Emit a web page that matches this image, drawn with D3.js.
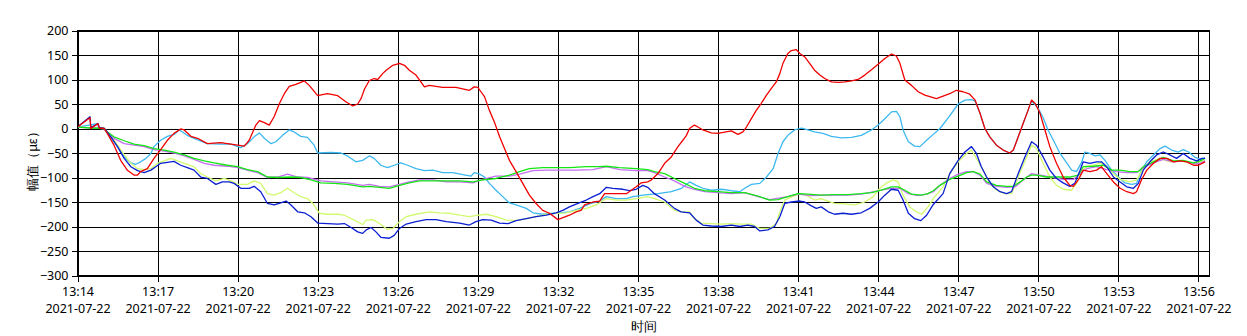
<!DOCTYPE html>
<html><head><meta charset="utf-8">
<script src="https://cdn.jsdelivr.net/npm/d3@7"></script>
<style>body{margin:0;background:#fff} svg text{font-family:"Noto Sans",sans-serif;fill:#000}</style>
</head><body><svg id="c" width="1247" height="336"></svg>
<script>
const dateLabel = "2021-07-22";
const xTickLabels = ["13:14","13:17","13:20","13:23","13:26","13:29","13:32","13:35","13:38","13:41","13:44","13:47","13:50","13:53","13:56"];
const yTicks = [200,150,100,50,0,-50,-100,-150,-200,-250,-300];
const xTitle = "时间";
const yTitle = "幅值（με）";
const seriesNames = ["cyan","yellowgreen","violet","green","blue","red"];

// times are "MM:SS" within hour 13
const cyan = [["14:00",3],["14:45",10],["14:48",1],["15:00",0],["15:15",-17],["15:30",-37],["15:45",-58],["16:00",-70],["16:11",-73],["16:22",-68],["16:34",-61],["16:45",-51],["16:52",-37],["17:07",-24],["17:22",-16],["17:37",-12],["17:49",-3],["17:56",-7],["18:07",-14],["18:22",-20],["18:52",-31],["19:22",-32],["19:45",-32],["20:07",-39],["20:22",-31],["20:37",-17],["20:49",-9],["21:00",-20],["21:15",-31],["21:26",-27],["21:41",-14],["21:56",-3],["22:07",-7],["22:22",-16],["22:37",-18],["22:52",-34],["23:00",-50],["23:30",-49],["23:52",-50],["24:07",-56],["24:26",-68],["24:41",-65],["24:56",-56],["25:07",-61],["25:22",-75],["25:37",-80],["25:52",-75],["26:07",-70],["26:22",-75],["26:41",-82],["27:00",-86],["27:19",-85],["27:41",-90],["28:04",-90],["28:26",-94],["28:45",-97],["28:52",-90],["29:04",-93],["29:15",-99],["29:26",-112],["29:41",-126],["29:56",-139],["30:11",-152],["30:26",-156],["30:49",-163],["31:04",-172],["31:26",-175],["31:49",-173],["32:04",-172],["32:26",-170],["32:49",-163],["33:11",-154],["33:34",-148],["33:49",-139],["34:11",-143],["34:34",-143],["34:49",-139],["35:11",-136],["35:45",-133],["36:15",-129],["36:38",-122],["36:56",-109],["37:11",-116],["37:26",-122],["37:45",-126],["38:08",-124],["38:30",-127],["38:49",-129],["39:00",-122],["39:15",-114],["39:34",-112],["39:49",-99],["40:04",-82],["40:15",-51],["40:26",-27],["40:37",-14],["40:52",-3],["41:08",1],["41:22",-3],["41:37",-7],["41:56",-10],["42:15",-16],["42:37",-19],["43:00",-18],["43:22",-14],["43:45",-3],["44:00",7],["44:15",20],["44:30",34],["44:41",35],["44:49",24],["44:56",-3],["45:08",-27],["45:22",-36],["45:34",-37],["45:49",-24],["46:04",-12],["46:19",0],["46:38",22],["47:00",50],["47:15",58],["47:30",59],["47:38",56],["47:49",31],["48:00",0],["48:11",-17],["48:26",-34],["48:41",-44],["48:56",-50],["49:04",-44],["49:15",-17],["49:26",10],["49:37",37],["49:45",56],["50:00",41],["50:11",22],["50:22",-3],["50:34",-24],["50:49",-51],["51:04",-70],["51:15",-85],["51:26",-88],["51:38",-68],["51:45",-48],["51:56",-51],["52:08",-56],["52:19",-54],["52:30",-65],["52:45",-85],["53:00",-99],["53:15",-111],["53:30",-114],["53:41",-112],["53:52",-85],["54:04",-68],["54:19",-54],["54:34",-41],["54:45",-36],["55:00",-44],["55:15",-48],["55:26",-43],["55:38",-48],["55:53",-59],["56:04",-63],["56:15",-60]];

const yellowgreen = [["14:00",3],["15:00",0],["15:15",-14],["15:30",-34],["15:45",-54],["16:00",-71],["16:15",-82],["16:30",-84],["16:45",-82],["17:00",-71],["17:15",-66],["17:30",-61],["17:45",-66],["18:00",-71],["18:22",-78],["18:37",-92],["18:52",-99],["19:11",-107],["19:30",-102],["19:45",-107],["20:00",-114],["20:22",-114],["20:37",-107],["20:52",-112],["21:07",-133],["21:22",-136],["21:37",-131],["21:52",-122],["22:07",-131],["22:22",-139],["22:37",-143],["22:49",-153],["23:04",-173],["23:22",-175],["23:45",-175],["24:00",-177],["24:22",-187],["24:41",-196],["24:49",-187],["25:04",-186],["25:19",-194],["25:37",-206],["25:49",-204],["26:04",-190],["26:19",-180],["26:41",-175],["27:11",-170],["27:34",-172],["27:56",-173],["28:19",-177],["28:41",-180],["29:00",-177],["29:19",-175],["29:41",-180],["30:04",-187],["30:26",-188],["30:49",-184],["31:11",-180],["31:34",-175],["31:56",-173],["32:19",-172],["32:41",-167],["33:04",-163],["33:26",-156],["33:49",-143],["34:11",-146],["34:34",-146],["34:56",-143],["35:22",-139],["35:37",-143],["36:00",-150],["36:22",-167],["36:37",-170],["36:56",-170],["37:07",-184],["37:22",-193],["37:45",-194],["38:07",-195],["38:30",-194],["38:52",-195],["39:15",-195],["39:34",-204],["39:56",-204],["40:11",-194],["40:19",-170],["40:30",-146],["40:49",-138],["41:07",-133],["41:22",-138],["41:37",-146],["41:52",-143],["42:07",-148],["42:22",-153],["42:45",-154],["43:07",-156],["43:30",-150],["43:49",-139],["44:04",-122],["44:19",-111],["44:34",-105],["44:45",-109],["44:56",-136],["45:11",-160],["45:26",-170],["45:38",-175],["45:52",-160],["46:04",-143],["46:26",-119],["46:41",-92],["47:00",-68],["47:19",-51],["47:30",-44],["47:41",-61],["47:56",-85],["48:11",-112],["48:26",-126],["48:45",-133],["49:00",-133],["49:15",-99],["49:34",-58],["49:45",-34],["49:56",-41],["50:11",-71],["50:26",-99],["50:41",-116],["50:56",-124],["51:15",-126],["51:26",-112],["51:38",-88],["51:49",-77],["52:04",-75],["52:19",-70],["52:34",-78],["52:49",-92],["53:04",-104],["53:26",-109],["53:41",-105],["53:56",-82],["54:11",-68],["54:34",-61],["54:56",-68],["55:19",-66],["55:41",-70],["56:04",-68],["56:15",-65]];

const violet = [["14:00",3],["15:00",0],["15:07",-7],["15:22",-20],["15:45",-31],["16:07",-34],["16:30",-37],["16:52",-43],["17:15",-46],["17:37",-50],["18:00",-56],["18:22",-63],["18:45",-71],["19:07",-75],["19:37",-77],["20:00",-80],["20:22",-85],["20:45",-90],["21:07",-100],["21:30",-99],["21:52",-93],["22:15",-99],["22:37",-100],["23:07",-107],["23:37",-109],["24:07",-111],["24:41",-116],["24:56",-114],["25:19",-118],["25:41",-119],["26:04",-114],["26:26",-109],["26:49",-105],["27:19",-105],["27:49",-109],["28:19",-109],["28:49",-111],["29:11",-104],["29:41",-97],["30:11",-97],["30:34",-93],["31:04",-86],["31:34",-85],["32:04",-85],["32:41",-85],["33:19",-84],["33:49",-78],["34:19",-84],["34:56",-86],["35:22",-86],["35:37",-90],["36:00",-99],["36:22",-107],["36:45",-118],["37:07",-124],["37:30",-129],["38:00",-131],["38:30",-133],["39:00",-131],["39:30",-139],["39:56",-145],["40:37",-139],["41:00",-134],["41:30",-137],["42:07",-136],["42:52",-136],["43:22",-134],["43:52",-129],["44:15",-124],["44:34",-122],["44:49",-122],["45:08",-133],["45:30",-137],["45:49",-134],["46:04",-129],["46:19",-116],["46:41",-102],["47:00",-93],["47:19",-88],["47:34",-88],["47:49",-95],["48:04",-112],["48:26",-118],["48:49",-120],["49:08",-119],["49:26",-105],["49:45",-92],["50:04",-95],["50:26",-99],["50:56",-104],["51:19",-104],["51:34",-92],["51:49",-82],["52:11",-78],["52:34",-84],["52:56",-88],["53:19",-90],["53:41",-90],["53:56",-80],["54:19",-70],["54:41",-63],["55:04",-68],["55:26",-66],["55:49",-71],["56:04",-71],["56:15",-66]];

const green = [["14:00",3],["14:30",1],["15:00",0],["15:07",-7],["15:22",-17],["15:45",-25],["16:07",-32],["16:30",-35],["16:52",-41],["17:15",-44],["17:37",-48],["18:00",-54],["18:22",-61],["18:45",-66],["19:07",-70],["19:37",-75],["20:00",-78],["20:22",-84],["20:45",-88],["21:07",-99],["21:30",-100],["22:00",-99],["22:22",-100],["22:45",-105],["23:07",-111],["23:37",-112],["24:07",-114],["24:41",-119],["24:56",-118],["25:19",-120],["25:41",-122],["26:04",-116],["26:26",-111],["26:49",-107],["27:19",-107],["27:49",-107],["28:19",-107],["28:49",-109],["29:11",-105],["29:41",-102],["30:11",-95],["30:34",-88],["30:56",-82],["31:26",-80],["31:56",-80],["32:26",-80],["33:04",-78],["33:34",-78],["33:49",-77],["34:19",-80],["34:56",-82],["35:22",-84],["35:37",-88],["36:00",-92],["36:22",-102],["36:45",-112],["37:07",-122],["37:30",-127],["38:00",-129],["38:30",-131],["39:00",-131],["39:30",-138],["39:56",-146],["40:15",-145],["40:37",-139],["41:00",-133],["41:22",-134],["41:52",-136],["42:22",-135],["42:52",-135],["43:22",-133],["43:45",-131],["44:07",-126],["44:30",-119],["44:45",-119],["45:00",-126],["45:15",-134],["45:37",-136],["45:52",-133],["46:04",-127],["46:19",-116],["46:41",-104],["47:00",-97],["47:19",-90],["47:34",-88],["47:49",-93],["48:04",-109],["48:26",-116],["48:49",-118],["49:04",-118],["49:19",-109],["49:34",-99],["49:45",-95],["49:56",-95],["50:19",-99],["50:41",-99],["51:11",-99],["51:30",-95],["51:41",-78],["52:04",-77],["52:26",-75],["52:45",-85],["53:04",-85],["53:26",-88],["53:45",-88],["53:56",-78],["54:19",-68],["54:41",-59],["55:04",-66],["55:26",-65],["55:49",-70],["56:04",-66],["56:15",-61]];

const blue = [["14:00",3],["14:28",24],["14:30",2],["14:46",10],["14:49",2],["15:00",0],["15:15",-17],["15:30",-37],["15:45",-61],["16:00",-78],["16:15",-86],["16:30",-90],["16:45",-85],["16:56",-78],["17:07",-71],["17:22",-69],["17:37",-67],["17:52",-75],["18:07",-80],["18:22",-85],["18:37",-99],["18:52",-102],["19:11",-114],["19:26",-109],["19:41",-109],["19:52",-112],["20:07",-122],["20:26",-122],["20:37",-118],["20:52",-129],["21:07",-153],["21:22",-156],["21:37",-152],["21:49",-148],["22:00",-156],["22:15",-170],["22:30",-172],["22:45",-180],["23:00",-193],["23:22",-194],["23:45",-195],["24:00",-194],["24:15",-202],["24:30",-211],["24:41",-214],["24:49",-207],["25:00",-202],["25:11",-211],["25:22",-222],["25:41",-224],["25:52",-218],["26:04",-204],["26:19",-195],["26:41",-190],["27:04",-186],["27:26",-186],["27:49",-190],["28:19",-193],["28:41",-197],["28:56",-190],["29:11",-186],["29:30",-187],["29:49",-193],["30:08",-194],["30:26",-188],["30:49",-184],["31:11",-180],["31:34",-177],["31:56",-172],["32:11",-167],["32:26",-160],["32:45",-153],["33:04",-146],["33:19",-139],["33:34",-133],["33:49",-120],["34:04",-122],["34:26",-124],["34:41",-127],["34:56",-124],["35:11",-116],["35:22",-120],["35:37",-133],["36:00",-146],["36:22",-163],["36:37",-170],["36:56",-172],["37:11",-187],["37:26",-197],["37:45",-199],["38:07",-200],["38:30",-197],["38:49",-200],["39:07",-197],["39:22",-200],["39:34",-209],["39:52",-207],["40:07",-200],["40:19",-180],["40:30",-153],["40:45",-150],["41:04",-148],["41:15",-150],["41:30",-158],["41:41",-163],["41:52",-160],["42:08",-170],["42:22",-175],["42:41",-173],["43:00",-175],["43:22",-172],["43:41",-163],["44:00",-150],["44:15",-136],["44:30",-124],["44:45",-126],["44:56",-146],["45:08",-173],["45:22",-184],["45:36",-188],["45:49",-177],["46:04",-155],["46:26",-133],["46:41",-92],["47:00",-65],["47:15",-48],["47:30",-37],["47:41",-51],["47:52",-78],["48:04",-99],["48:19",-119],["48:34",-129],["48:49",-133],["49:00",-129],["49:15",-92],["49:30",-58],["49:45",-27],["49:56",-34],["50:11",-58],["50:26",-85],["50:41",-102],["50:56",-111],["51:11",-118],["51:22",-112],["51:34",-85],["51:41",-68],["51:56",-71],["52:11",-68],["52:22",-68],["52:34",-78],["52:49",-99],["53:04",-109],["53:19",-119],["53:34",-122],["53:45",-112],["53:56",-85],["54:11",-68],["54:26",-54],["54:41",-48],["54:56",-54],["55:11",-61],["55:26",-51],["55:41",-61],["55:56",-66],["56:08",-61],["56:15",-61]];

const red = [["14:00",3],["14:28",22],["14:30",0],["14:46",10],["14:49",1],["15:00",0],["15:07",-10],["15:22",-34],["15:37",-65],["15:52",-85],["16:07",-95],["16:15",-95],["16:22",-88],["16:37",-82],["16:52",-61],["17:07",-43],["17:22",-24],["17:37",-10],["17:52",-1],["18:00",-3],["18:15",-16],["18:30",-20],["18:52",-31],["19:22",-29],["19:37",-31],["20:00",-34],["20:15",-36],["20:26",-24],["20:41",7],["20:49",16],["21:00",12],["21:11",7],["21:22",24],["21:34",51],["21:45",71],["21:56",86],["22:11",90],["22:30",97],["22:41",88],["23:00",67],["23:22",71],["23:45",67],["24:04",54],["24:19",46],["24:30",50],["24:38",62],["24:45",80],["24:56",98],["25:07",102],["25:15",100],["25:26",112],["25:34",119],["25:49",129],["26:04",133],["26:15",129],["26:26",119],["26:41",109],["26:52",95],["27:00",85],["27:11",88],["27:41",84],["28:11",84],["28:41",78],["28:52",85],["29:00",84],["29:07",75],["29:15",65],["29:26",37],["29:37",14],["29:49",-17],["30:00",-41],["30:11",-65],["30:26",-88],["30:41",-112],["30:56",-136],["31:11",-153],["31:26",-167],["31:41",-173],["32:00",-186],["32:26",-177],["32:41",-170],["32:52",-167],["33:00",-156],["33:19",-150],["33:34",-148],["33:45",-133],["33:56",-133],["34:34",-133],["34:45",-126],["34:56",-119],["35:07",-111],["35:22",-109],["35:30",-105],["35:45",-92],["36:00",-71],["36:15",-58],["36:30",-37],["36:41",-24],["36:49",-14],["36:56",0],["37:07",7],["37:15",3],["37:26",-3],["37:45",-9],["38:00",-10],["38:30",-5],["38:45",-12],["38:56",-7],["39:04",3],["39:15",20],["39:26",37],["39:37",51],["39:49",68],["40:00",82],["40:11",95],["40:19",112],["40:26",133],["40:37",153],["40:45",159],["40:56",161],["41:04",153],["41:15",146],["41:26",133],["41:37",119],["41:49",109],["42:00",102],["42:15",95],["42:30",94],["42:45",95],["43:00",97],["43:15",100],["43:30",109],["43:45",120],["44:00",131],["44:15",143],["44:30",152],["44:41",148],["44:49",133],["45:00",99],["45:15",88],["45:30",75],["45:45",68],["46:11",61],["46:26",66],["46:41",71],["46:56",78],["47:11",75],["47:26",70],["47:38",58],["47:49",31],["48:00",0],["48:11",-17],["48:26",-34],["48:41",-44],["48:56",-50],["49:04",-44],["49:15",-17],["49:26",10],["49:37",37],["49:45",58],["49:53",51],["50:04",31],["50:15",-3],["50:26",-37],["50:41",-71],["50:56",-99],["51:11",-116],["51:19",-118],["51:30",-105],["51:41",-85],["51:56",-88],["52:11",-85],["52:22",-78],["52:34",-92],["52:49",-109],["53:04",-122],["53:19",-129],["53:34",-133],["53:41",-129],["53:52",-105],["54:04",-85],["54:19",-71],["54:34",-61],["54:49",-61],["55:04",-68],["55:19",-66],["55:34",-68],["55:49",-75],["56:00",-75],["56:15",-68]];

const colors = {cyan:"#3cb8f0", yellowgreen:"#d2fa6e", violet:"#c46ef0", green:"#14e614", blue:"#0a1ed2", red:"#f00000"};
const seriesData = {cyan, yellowgreen, violet, green, blue, red};

const parse = d3.timeParse("%H:%M:%S");
const tp = s => parse("13:" + s);

const L = 77.5, R = 1209.5, T = 30.5, B = 275.5;
const x = d3.scaleTime().domain([tp("14:00"), tp("56:25")]).range([L, R]);
const y = d3.scaleLinear().domain([-300, 200]).range([B, T]);

const svg = d3.select("#c");
const xTickVals = xTickLabels.map(s => parse(s + ":00"));

// grid
svg.append("g").attr("transform", `translate(0,${T})`)
  .call(d3.axisBottom(x).tickValues(xTickVals).tickSize(B - T).tickFormat(""))
  .call(g => { g.select(".domain").remove(); g.selectAll("line").attr("stroke", "#000").attr("shape-rendering", "crispEdges"); });
svg.append("g").attr("transform", `translate(${L},0)`)
  .call(d3.axisRight(y).tickValues(yTicks).tickSize(R - L).tickFormat(""))
  .call(g => { g.select(".domain").remove(); g.selectAll("line").attr("stroke", "#000").attr("shape-rendering", "crispEdges"); });

// series
const line = d3.line().x(d => x(tp(d[0]))).y(d => y(d[1]));
const plot = svg.append("g");
plot.append("clipPath").attr("id", "clip").append("rect").attr("x", L).attr("y", T).attr("width", R - L).attr("height", B - T);
seriesNames.forEach(n => {
  plot.append("path").datum(seriesData[n]).attr("d", line)
    .attr("fill", "none").attr("stroke", colors[n]).attr("stroke-width", 1.3)
    .attr("stroke-linejoin", "round").attr("clip-path", "url(#clip)");
});

// frame
svg.append("rect").attr("x", L).attr("y", T).attr("width", R - L).attr("height", B - T)
  .attr("fill", "none").attr("stroke", "#000").attr("shape-rendering", "crispEdges");

// axes
const xa = svg.append("g").attr("transform", `translate(0,${B})`)
  .call(d3.axisBottom(x).tickValues(xTickVals).tickSize(6).tickSizeOuter(0).tickFormat(d3.timeFormat("%H:%M")));
xa.select(".domain").remove();
xa.selectAll("line").attr("stroke", "#000").attr("shape-rendering", "crispEdges");
xa.selectAll("text").each(function(d) {
  const t = d3.select(this);
  const lbl = t.text();
  t.text(null).attr("y", null).attr("dy", null).attr("font-size", 12.5).attr("font-family", "'Noto Sans', sans-serif").attr("fill", "#000");
  t.append("tspan").attr("x", 0).attr("y", 20.5).text(lbl);
  t.append("tspan").attr("x", 0).attr("y", 37.5).text(dateLabel);
});

const ya = svg.append("g").attr("transform", `translate(${L},0)`)
  .call(d3.axisLeft(y).tickValues(yTicks).tickSize(6).tickSizeOuter(0).tickPadding(3));
ya.select(".domain").remove();
ya.selectAll("line").attr("stroke", "#000").attr("shape-rendering", "crispEdges");
ya.selectAll("text").attr("font-size", 12.5).attr("font-family", "'Noto Sans', sans-serif").attr("fill", "#000");

// titles
svg.append("text").attr("x", (L + R) / 2).attr("y", 331).attr("text-anchor", "middle")
  .attr("font-size", 12.5).attr("font-family", "'Noto Sans CJK SC', sans-serif").text(xTitle);
svg.append("text").attr("transform", `translate(37,${158}) rotate(-90)`).attr("text-anchor", "middle")
  .attr("font-size", 12.5).attr("font-family", "'Noto Sans CJK SC', sans-serif").text(yTitle);
</script></body></html>
